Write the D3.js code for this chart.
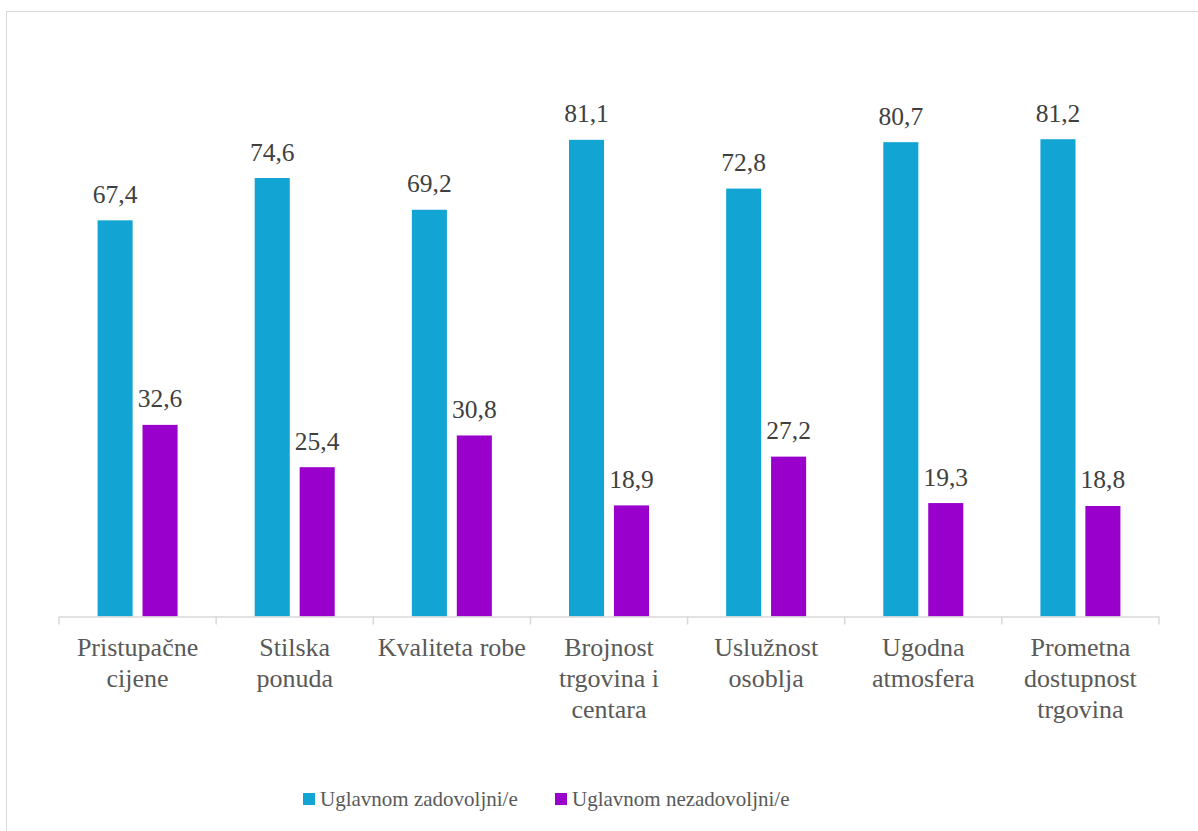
<!DOCTYPE html>
<html>
<head>
<meta charset="utf-8">
<script src="https://cdn.jsdelivr.net/npm/d3@7.9.0/dist/d3.min.js"></script>
<style>
  body { margin: 0; background: #fff; }
</style>
</head>
<body>
<div id="chart"></div>
<script>
const categories = [
  ['Pristupačne', 'cijene'],
  ['Stilska', 'ponuda'],
  ['Kvaliteta robe'],
  ['Brojnost', 'trgovina i', 'centara'],
  ['Uslužnost', 'osoblja'],
  ['Ugodna', 'atmosfera'],
  ['Prometna', 'dostupnost', 'trgovina']
];
const seriesNames = ['Uglavnom zadovoljni/e', 'Uglavnom nezadovoljni/e'];
const satisfied = [67.4, 74.6, 69.2, 81.1, 72.8, 80.7, 81.2];
const unsatisfied = [32.6, 25.4, 30.8, 18.9, 27.2, 19.3, 18.8];
const colors = ['#12a5d4', '#9900cc'];

const width = 1198, height = 831;
const axisLeft = 59, axisRight = 1159, baseline = 616.5;
const font = 'Liberation Serif, Times New Roman, serif';

const svg = d3.select('#chart').append('svg')
  .attr('width', width)
  .attr('height', height)
  .style('display', 'block')
  .attr('font-family', font);

// chart border (runs off the right and bottom)
svg.append('rect')
  .attr('x', 6.5).attr('y', 11.5)
  .attr('width', 1300).attr('height', 900)
  .attr('fill', '#fff')
  .attr('stroke', '#d9d9d9');

const keys = categories.map(c => c.join(' '));
const x0 = d3.scaleBand().domain(keys).range([axisLeft, axisRight]);
const groupWidth = 80;
const x1 = d3.scaleBand().domain(seriesNames).range([0, groupWidth]).paddingInner(0.22);
const y = d3.scaleLinear().domain([0, 90]).range([baseline, 87.5]);

const rows = keys.map((k, i) => ({ key: k, lines: categories[i], values: [satisfied[i], unsatisfied[i]] }));

const groups = svg.append('g').selectAll('g')
  .data(rows)
  .join('g')
  .attr('transform', d => `translate(${x0(d.key) + (x0.bandwidth() - groupWidth) / 2},0)`);

groups.selectAll('rect')
  .data(d => d.values.map((v, j) => ({ series: seriesNames[j], value: v, j })))
  .join('rect')
  .attr('x', d => x1(d.series))
  .attr('y', d => y(d.value))
  .attr('width', x1.bandwidth())
  .attr('height', d => baseline - y(d.value))
  .attr('fill', d => colors[d.j]);

groups.selectAll('text.val')
  .data(d => d.values.map((v, j) => ({ series: seriesNames[j], value: v })))
  .join('text')
  .attr('class', 'val')
  .attr('x', d => x1(d.series) + x1.bandwidth() / 2)
  .attr('y', d => y(d.value) - 17.5)
  .attr('text-anchor', 'middle')
  .attr('font-family', font)
  .attr('font-size', 25.5)
  .attr('fill', '#404040')
  .text(d => d3.format('.1f')(d.value).replace('.', ','));

// x axis line and ticks
const axis = svg.append('g').attr('stroke', '#d9d9d9').attr('stroke-width', 1.5);
axis.append('line')
  .attr('x1', axisLeft).attr('x2', axisRight)
  .attr('y1', baseline + 0.5).attr('y2', baseline + 0.5);
const tickPos = keys.map(k => x0(k)).concat([axisRight]);
axis.selectAll('line.tick')
  .data(tickPos)
  .join('line')
  .attr('class', 'tick')
  .attr('x1', d => d).attr('x2', d => d)
  .attr('y1', baseline).attr('y2', baseline + 8);

// category labels
const labels = svg.append('g').selectAll('text')
  .data(rows)
  .join('text')
  .attr('x', d => x0(d.key) + x0.bandwidth() / 2)
  .attr('y', 656)
  .attr('text-anchor', 'middle')
  .attr('font-family', font)
  .attr('font-size', 26)
  .attr('fill', '#595959');
labels.selectAll('tspan')
  .data(d => d.lines)
  .join('tspan')
  .attr('x', function() { return this.parentNode.getAttribute('x'); })
  .attr('dy', (d, i) => i === 0 ? 0 : 31)
  .text(d => d);

// legend
const legendX = [303, 555];
const legend = svg.append('g').selectAll('g')
  .data(seriesNames)
  .join('g')
  .attr('transform', (d, i) => `translate(${legendX[i]},793)`);
legend.append('rect')
  .attr('width', 12).attr('height', 12)
  .attr('fill', (d, i) => colors[i]);
legend.append('text')
  .attr('x', 17).attr('y', 13)
  .attr('font-family', font)
  .attr('font-size', 21)
  .attr('fill', '#595959')
  .text(d => d);
</script>
</body>
</html>
